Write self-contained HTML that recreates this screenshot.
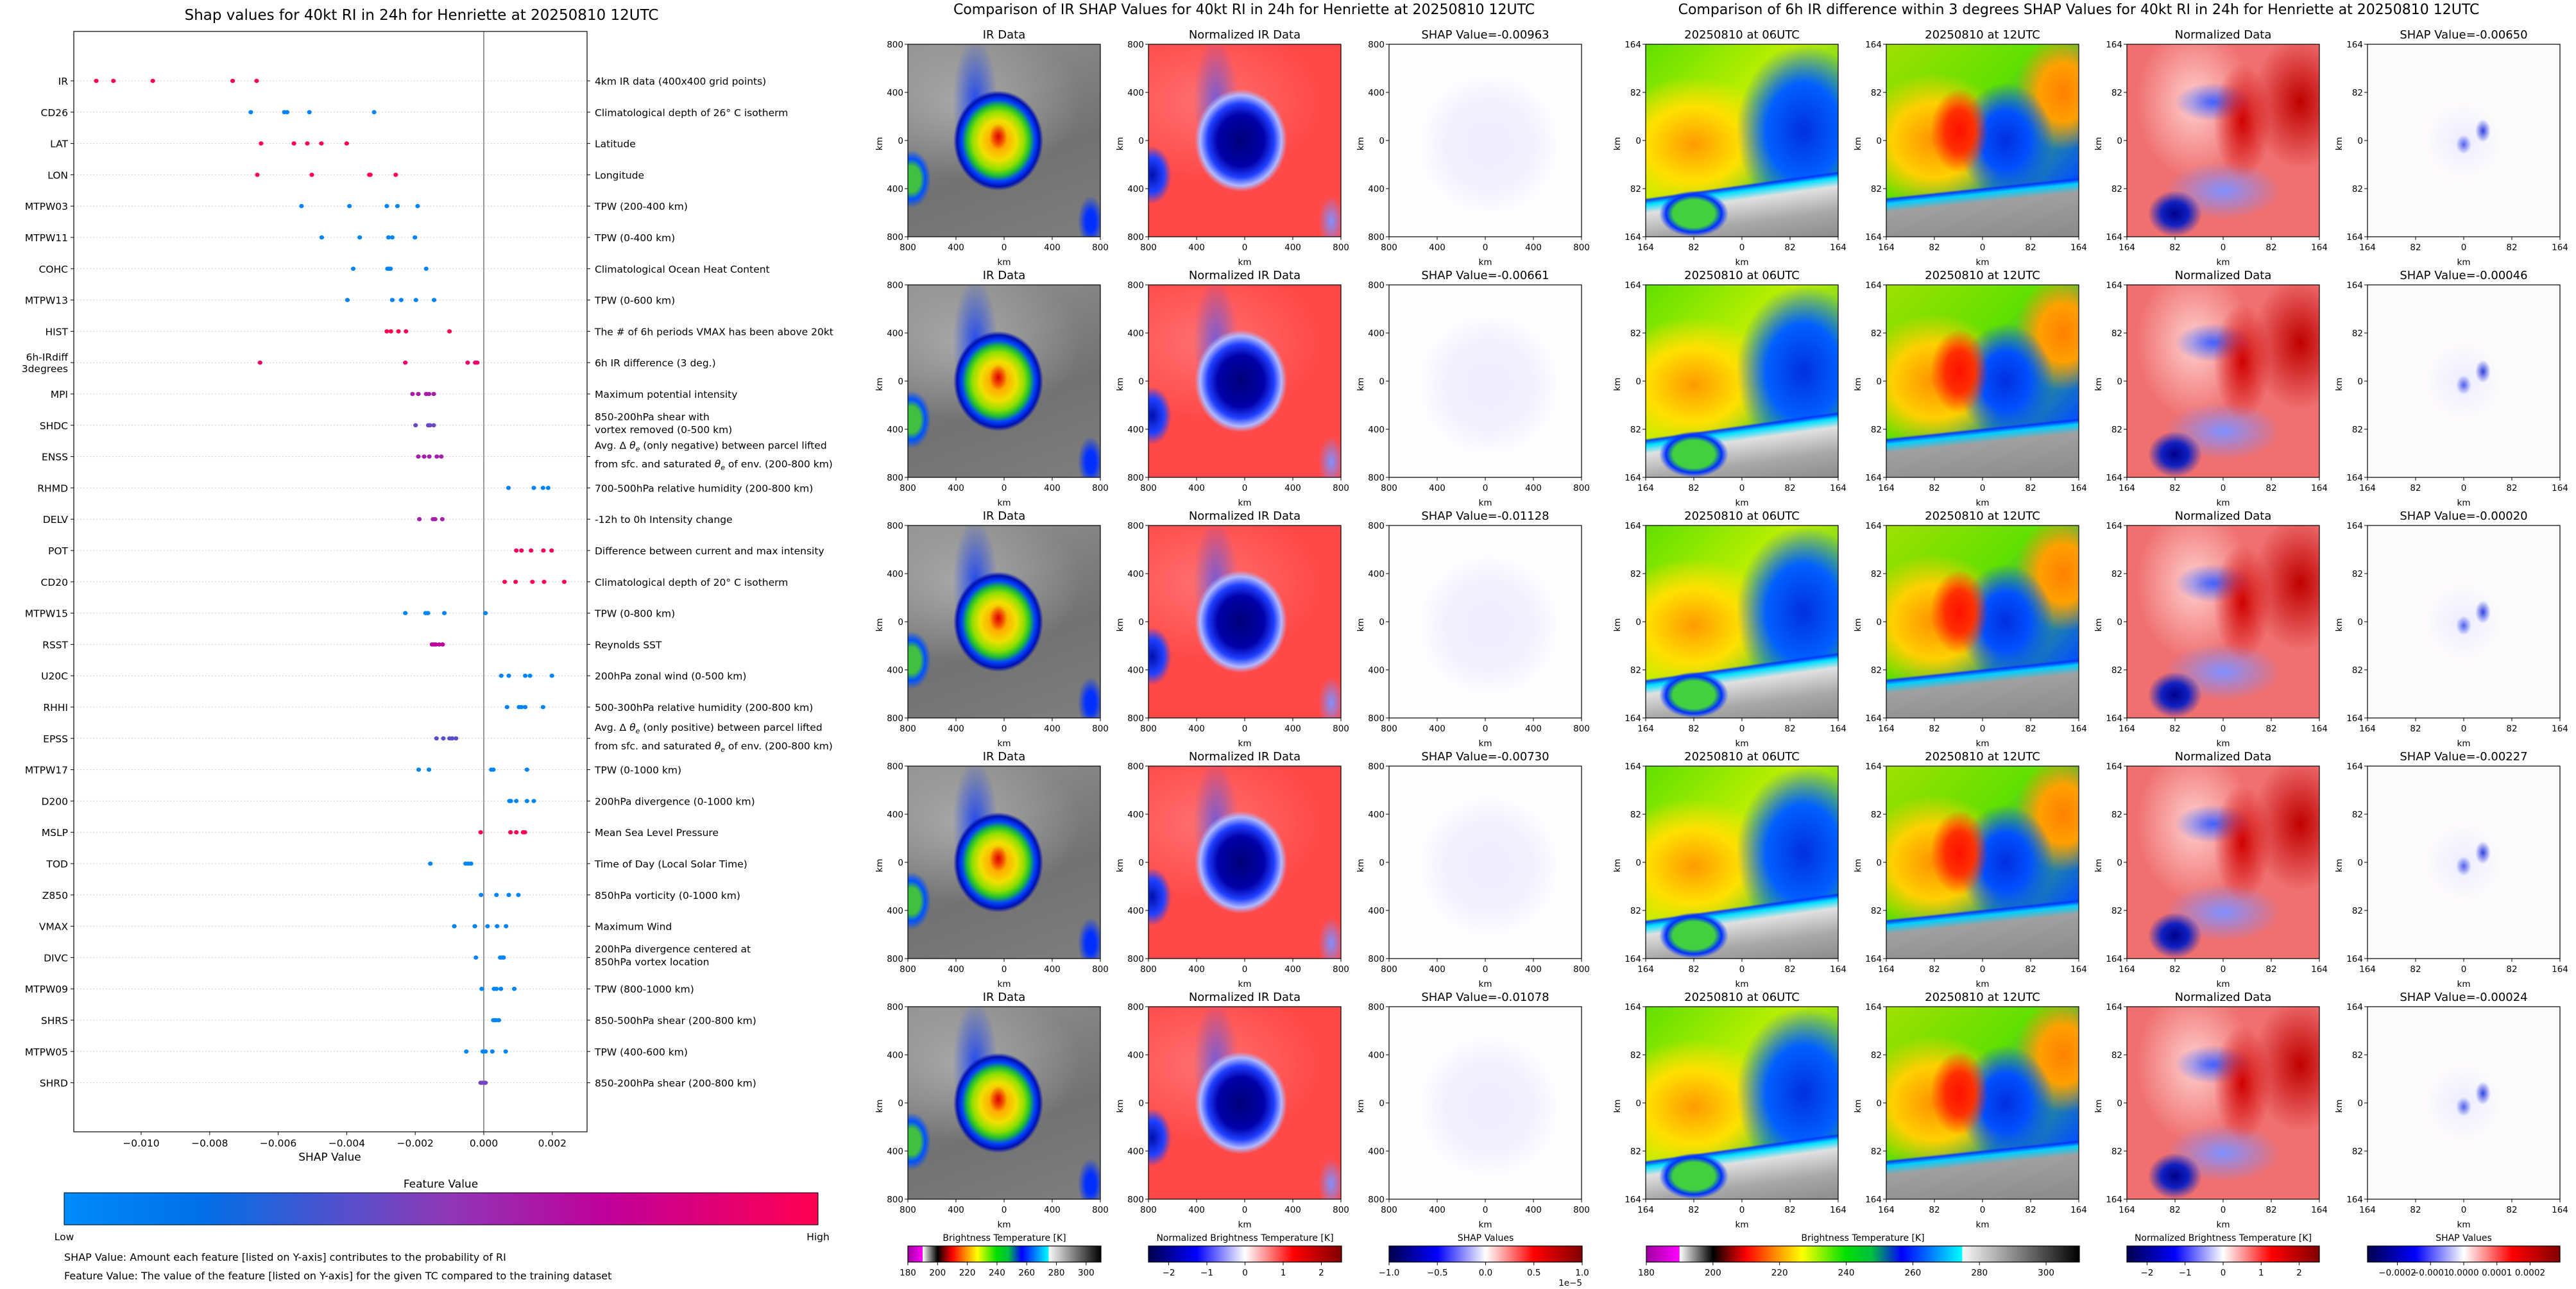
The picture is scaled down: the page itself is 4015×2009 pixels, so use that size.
<!DOCTYPE html>
<html><head><meta charset="utf-8">
<style>
html,body{margin:0;padding:0;background:#fff;}
#root{position:relative;width:4015px;height:2009px;overflow:hidden;background:#fff;font-family:"DejaVu Sans","Liberation Sans",sans-serif;}
.img{position:absolute;width:300px;height:300px;}
.ir{background:
 radial-gradient(ellipse 14px 20px at 47% 48%, #e00000 0%, rgba(224,0,0,0) 100%),
 radial-gradient(ellipse 70px 78px at 47% 50%, #ff7a00 0%, #ffb000 20%, #f0e000 40%, #90e000 58%, #20c030 70%, #0040ff 82%, #0010b0 92%, rgba(180,180,180,0) 100%),
 radial-gradient(ellipse 35px 100px at 35% 30%, rgba(0,50,255,.8) 0, rgba(0,50,255,0) 100%),
 radial-gradient(ellipse 30px 45px at 2% 70%, #40c040 0, #40c040 45%, #0050ff 70%, rgba(0,0,0,0) 100%),
 radial-gradient(ellipse 20px 40px at 95% 92%, #0030ff 0, #0030ff 40%, rgba(0,0,0,0) 100%),
 radial-gradient(ellipse 60% 40% at 30% 30%, rgba(185,185,185,.7), rgba(0,0,0,0)),
 linear-gradient(160deg,#939393,#727272 60%,#7e7e7e);}
.nir{background:
 radial-gradient(ellipse 72px 80px at 48% 50%, #00007a 0, #0000a8 50%, #2040ff 72%, #b0b8ff 88%, rgba(255,74,74,0) 100%),
 radial-gradient(ellipse 35px 100px at 35% 30%, rgba(60,80,255,.7) 0, rgba(60,80,255,0) 100%),
 radial-gradient(ellipse 30px 45px at 2% 68%, #0010b0 0, #2040ff 60%, rgba(0,0,0,0) 100%),
 radial-gradient(ellipse 20px 40px at 95% 92%, #8090ff 0, rgba(0,0,0,0) 100%),
 radial-gradient(ellipse 60% 40% at 30% 30%, rgba(255,140,140,.6), rgba(0,0,0,0)),
 #ff4848;}
.shp{background:
 radial-gradient(circle 110px at 52% 52%, #eeedff 0, #f1f0ff 60%, rgba(250,250,255,0) 100%),
 #fefdff;}
.t06{background:
 radial-gradient(ellipse 18% 12% at 25% 88%, #40d040 0, #40d040 60%, #0030ff 80%, rgba(0,0,0,0) 100%),
 linear-gradient(172deg, rgba(0,0,0,0) 70%, rgba(0,48,255,.9) 71%, #00e0ff 73%, #e0e0e0 77%, #a8a8a8 88%, #8c8c8c),
 radial-gradient(ellipse 35% 45% at 82% 45%, #0030e0, #0060ff 55%, rgba(0,80,255,0)),
 radial-gradient(ellipse 45% 35% at 25% 52%, #ff9a00, #ffe000 55%, rgba(255,230,0,0)),
 linear-gradient(to bottom right, #60e000, #c0f000 40%, #40c040 75%);}
.t12{background:
 linear-gradient(174deg, rgba(0,0,0,0) 72%, rgba(0,48,255,.9) 73%, #00d0ff 75%, #a0a0a0 79%, #8a8a8a),
 radial-gradient(ellipse 15% 22% at 38% 45%, #ff1000, #ff3000 50%, rgba(255,60,0,0)),
 radial-gradient(ellipse 25% 30% at 62% 50%, #0030e0, #0050ff 50%, rgba(0,80,255,0)),
 radial-gradient(ellipse 25% 30% at 92% 25%, #ff8000, #ffa000 50%, rgba(255,160,0,0)),
 radial-gradient(ellipse 40% 35% at 25% 50%, #ff9000, #ffd000 55%, rgba(255,210,0,0)),
 linear-gradient(to bottom right, #a0e000, #60e000 40%, #0050ff 85%);}
.nrm{background:
 radial-gradient(ellipse 14% 12% at 25% 88%, #00008a, #1020c0 50%, rgba(0,0,0,0)),
 radial-gradient(ellipse 15% 30% at 60% 40%, #d00000, rgba(208,0,0,0)),
 radial-gradient(ellipse 20% 10% at 45% 30%, #4060ff, rgba(64,96,255,0)),
 radial-gradient(ellipse 25% 35% at 90% 30%, #c00000, rgba(192,0,0,0)),
 radial-gradient(ellipse 30% 15% at 50% 76%, #8090ff, rgba(128,144,255,0)),
 radial-gradient(ellipse 30% 40% at 35% 30%, #ffd0d0, rgba(255,208,208,0)),
 #f07070;}
.shp2{background:
 radial-gradient(ellipse 4% 6% at 60% 45%, #3040e0, rgba(48,64,224,0)),
 radial-gradient(ellipse 4% 5% at 50% 52%, #5060e8, rgba(48,64,224,0)),
 radial-gradient(ellipse 20% 20% at 50% 50%, #ececff, rgba(232,232,255,0)),
 #fefbfc;}
.cb{position:absolute;height:25px;}
.cbBT{background:linear-gradient(to right,#a000a0 0%,#ff00ff 7.6%,#ffffff 7.7%,#000000 15.4%,#800000 19%,#ff0000 23%,#ff9000 30%,#ffff00 36%,#00e000 46%,#00c040 52%,#0000ff 59%,#00ffff 72.9%,#f8f8f8 73%,#000000 100%);}
.cbSE{background:linear-gradient(to right,#00004c 0%,#0000ff 25%,#ffffff 50%,#ff0000 75%,#800000 100%);}
</style></head>
<body>
<div id="root"></div>
<script>
// ===== Left beeswarm data =====
const features = ["IR","CD26","LAT","LON","MTPW03","MTPW11","COHC","MTPW13","HIST","6h-IRdiff|3degrees","MPI","SHDC","ENSS","RHMD","DELV","POT","CD20","MTPW15","RSST","U20C","RHHI","EPSS","MTPW17","D200","MSLP","TOD","Z850","VMAX","DIVC","MTPW09","SHRS","MTPW05","SHRD"];
const descriptions = ["4km IR data (400x400 grid points)","Climatological depth of 26° C isotherm","Latitude","Longitude","TPW (200-400 km)","TPW (0-400 km)","Climatological Ocean Heat Content","TPW (0-600 km)","The # of 6h periods VMAX has been above 20kt","6h IR difference (3 deg.)","Maximum potential intensity","850-200hPa shear with|vortex removed (0-500 km)","THETA-NEG","700-500hPa relative humidity (200-800 km)","-12h to 0h Intensity change","Difference between current and max intensity","Climatological depth of 20° C isotherm","TPW (0-800 km)","Reynolds SST","200hPa zonal wind (0-500 km)","500-300hPa relative humidity (200-800 km)","THETA-POS","TPW (0-1000 km)","200hPa divergence (0-1000 km)","Mean Sea Level Pressure","Time of Day (Local Solar Time)","850hPa vorticity (0-1000 km)","Maximum Wind","200hPa divergence centered at|850hPa vortex location","TPW (800-1000 km)","850-500hPa shear (200-800 km)","TPW (400-600 km)","850-200hPa shear (200-800 km)"];
const shapValues = [
 [-0.01131,-0.01081,-0.00966,-0.00733,-0.00663],
 [-0.00680,-0.00582,-0.00574,-0.00509,-0.00320],
 [-0.00650,-0.00554,-0.00515,-0.00474,-0.00400],
 [-0.00661,-0.00502,-0.00334,-0.00331,-0.00257],
 [-0.00532,-0.00392,-0.00283,-0.00252,-0.00193],
 [-0.00473,-0.00362,-0.00278,-0.00267,-0.00201],
 [-0.00381,-0.00281,-0.00277,-0.00272,-0.00168],
 [-0.00398,-0.00267,-0.00241,-0.00198,-0.00145],
 [-0.00283,-0.00271,-0.00249,-0.00227,-0.00100],
 [-0.00653,-0.00229,-0.00047,-0.00025,-0.00019],
 [-0.00208,-0.00191,-0.00168,-0.00160,-0.00146],
 [-0.00199,-0.00162,-0.00157,-0.00146],
 [-0.00191,-0.00174,-0.00159,-0.00137,-0.00124],
 [0.00072,0.00146,0.00173,0.00188],
 [-0.00188,-0.00148,-0.00142,-0.00121],
 [0.00095,0.00110,0.00138,0.00174,0.00198],
 [0.00061,0.00093,0.00142,0.00176,0.00235],
 [-0.00229,-0.00170,-0.00163,-0.00115,0.00005],
 [-0.00151,-0.00145,-0.00140,-0.00130,-0.00120],
 [0.00051,0.00073,0.00121,0.00135,0.00199],
 [0.00068,0.00103,0.00110,0.00121,0.00173],
 [-0.00138,-0.00118,-0.00100,-0.00092,-0.00081],
 [-0.00190,-0.00160,0.00022,0.00028,0.00126],
 [0.00075,0.00079,0.00095,0.00126,0.00146],
 [-0.00009,0.00078,0.00095,0.00115,0.00120],
 [-0.00156,-0.00053,-0.00045,-0.00037],
 [-0.00008,0.00037,0.00073,0.00101],
 [-0.00086,-0.00026,0.00011,0.00039,0.00065],
 [-0.00023,0.00048,0.00053,0.00058],
 [-0.00006,0.00030,0.00037,0.00050,0.00089],
 [0.00028,0.00032,0.00036,0.00044],
 [-0.00051,-0.00003,0.00005,0.00025,0.00064],
 [-0.00009,-0.00005,0.00002,0.00005]
];
const featureValues = [1,0.05,1,1,0.05,0.05,0.05,0.05,1,0.9,0.62,0.42,0.6,0.05,0.6,0.95,1,0.05,0.72,0.05,0.05,0.38,0.05,0.05,1,0.05,0.05,0.05,0.05,0.05,0.05,0.05,0.45];
const xTicks = [-0.010,-0.008,-0.006,-0.004,-0.002,0.000,0.002];

// ===== Right panel data =====
const irShapTitles = ["-0.00963","-0.00661","-0.01128","-0.00730","-0.01078"];
const diffShapTitles = ["-0.00650","-0.00046","-0.00020","-0.00227","-0.00024"];
const irTicks = ["800","400","0","400","800"];
const diffTicks = ["164","82","0","82","164"];
const btTicks = [180,200,220,240,260,280,300];
const normTicks = [-2,-1,0,1,2];
const shapCbTicks = [-1.0,-0.5,0.0,0.5,1.0];
const shapCb2Ticks = [-0.0002,-0.0001,0.0000,0.0001,0.0002];

const NS="http://www.w3.org/2000/svg";
const root=document.getElementById('root');
const svg=document.createElementNS(NS,'svg');
svg.setAttribute('width',4015);svg.setAttribute('height',2009);
svg.setAttribute('style','position:absolute;left:0;top:0;');



function el(tag,attrs,parent){const e=document.createElementNS(NS,tag);for(const k in attrs)e.setAttribute(k,attrs[k]);(parent||svg).appendChild(e);return e;}
function txt(x,y,s,size,anchor,parent,extra){const e=el('text',Object.assign({x:x,y:y,'font-size':size,'text-anchor':anchor||'start',fill:'#000','font-family':'DejaVu Sans, Liberation Sans, sans-serif'},extra||{}),parent);e.textContent=s;return e;}
function fmtMinus(v,d){const s=Math.abs(v).toFixed(d);return (v<0?'\u2212':'')+s;}

const cmapStops=[[0,[0,139,251]],[0.18,[0,112,232]],[0.5,[140,58,184]],[0.72,[192,0,154]],[1,[255,0,81]]];
function cmap(t){for(let i=1;i<cmapStops.length;i++){if(t<=cmapStops[i][0]){const a=cmapStops[i-1],b=cmapStops[i];const f=(t-a[0])/(b[0]-a[0]);return 'rgb('+a[1].map((c,j)=>Math.round(c+(b[1][j]-c)*f)).join(',')+')';}}return 'rgb(255,0,81)';}

// ===== Left chart =====
const L={x0:115,x1:915,y0:49,y1:1764};
const xScale=v=>754+v*53400;
const yRow=i=>126+i*48.8;
const gLeft=el('g',{});


const t1=txt(657,31,'Shap values for 40kt RI in 24h for Henriette at 20250810 12UTC',23,'middle',gLeft);



features.forEach((f,i)=>{
  const y=yRow(i);
  const gl=el('line',{x1:L.x0,x2:L.x1,y1:y,y2:y,stroke:'#cccccc','stroke-width':1,'stroke-dasharray':'2,3'},gLeft);
  
  
  el('line',{x1:L.x0-5,x2:L.x0,y1:y,y2:y,stroke:'#000'},gLeft);
  el('line',{x1:L.x1,x2:L.x1+5,y1:y,y2:y,stroke:'#000'},gLeft);
  const parts=f.split('|');
  let lab;
  if(parts.length===1){lab=txt(L.x0-9,y+6,f,15.5,'end',gLeft);}
  else{lab=txt(L.x0-9,y-3,parts[0],15.5,'end',gLeft);const l2=txt(L.x0-9,y+15,parts[1],15.5,'end',gLeft);}
  
  
  const d=descriptions[i];
  let dl;
  if(d==='THETA-NEG'||d==='THETA-POS'){
    const word=d==='THETA-NEG'?'negative':'positive';
    dl=el('text',{x:L.x1+12,y:y-12,'font-size':15.5,fill:'#000','font-family':'DejaVu Sans, sans-serif'},gLeft);
    dl.innerHTML='Avg. Δ <tspan font-style="italic">θ</tspan><tspan font-style="italic" font-size="11" dy="4">e</tspan><tspan dy="-4"> (only '+word+') between parcel lifted</tspan>';
    const d2=el('text',{x:L.x1+12,y:y+17,'font-size':15.5,fill:'#000','font-family':'DejaVu Sans, sans-serif'},gLeft);
    d2.innerHTML='from sfc. and saturated <tspan font-style="italic">θ</tspan><tspan font-style="italic" font-size="11" dy="4">e</tspan><tspan dy="-4"> of env. (200-800 km)</tspan>';
    
    
  } else {
    const dp=d.split('|');
    if(dp.length===1){dl=txt(L.x1+12,y+6,d,15.5,'start',gLeft);}
    else{dl=txt(L.x1+12,y-8,dp[0],15.5,'start',gLeft);const d2=txt(L.x1+12,y+12,dp[1],15.5,'start',gLeft);}
  }
  
  
});
const zl=el('line',{x1:xScale(0),x2:xScale(0),y1:L.y0,y2:L.y1,stroke:'#999999','stroke-width':2},gLeft);


shapValues.forEach((row,i)=>{
  row.forEach(v=>{
    const c=el('ellipse',{cx:xScale(v),cy:yRow(i),rx:3.6,ry:3.3,fill:cmap(featureValues[i])},gLeft);
    
    
  });
});
const frame=el('rect',{x:L.x0,y:L.y0,width:L.x1-L.x0,height:L.y1-L.y0,fill:'none',stroke:'#000','stroke-width':1.2},gLeft);


xTicks.forEach(v=>{
  const x=xScale(v);
  el('line',{x1:x,x2:x,y1:L.y1,y2:L.y1+5,stroke:'#000'},gLeft);
  const tl=txt(x,L.y1+23,fmtMinus(v,3),15.5,'middle',gLeft);
  
  
});
const xt=txt(514,L.y1+45,'SHAP Value',17,'middle',gLeft);


const lg=el('linearGradient',{id:'shapcm',x1:0,x2:1,y1:0,y2:0},el('defs',{}));
cmapStops.forEach(s=>el('stop',{offset:s[0],'stop-color':'rgb('+s[1].join(',')+')'},lg));
const cbr=el('rect',{x:100,y:1859,width:1175,height:50,fill:'url(#shapcm)',stroke:'#000','stroke-width':1},gLeft);


const cbt=txt(687,1851,'Feature Value',17,'middle',gLeft);


const lo=txt(100,1933,'Low',15.5,'middle',gLeft);


const hi=txt(1275,1933,'High',15.5,'middle',gLeft);


const n1=txt(100,1965,'SHAP Value: Amount each feature [listed on Y-axis] contributes to the probability of RI',16,'start',gLeft);


const n2=txt(100,1994,'Feature Value: The value of the feature [listed on Y-axis] for the given TC compared to the training dataset',16,'start',gLeft);



// ===== Image panels =====
function panel(x,y,cls,title,ticks,name){
  const d=document.createElement('div');
  d.className='img '+cls;
  d.style.left=x+'px';d.style.top=y+'px';
  
  
  root.appendChild(d);
  const g=el('g',{});
  
  
  el('rect',{x:x,y:y,width:300,height:300,fill:'none',stroke:'#000','stroke-width':1.2},g);
  const tt=txt(x+150,y-9,title,18,'middle',g);
  
  
  ticks.forEach((t,k)=>{
    const p=k*75;
    el('line',{x1:x-5,x2:x,y1:y+p,y2:y+p,stroke:'#000'},g);
    const yl=txt(x-7,y+p+5,t,13.5,'end',g);
    
    
    el('line',{x1:x+p,x2:x+p,y1:y+300,y2:y+305,stroke:'#000'},g);
    const xl=txt(x+p,y+321,t,13.5,'middle',g);
    
    
  });
  const xk=txt(x+150,y+344,'km',13.5,'middle',g);
  
  
  const yk=txt(x-45,y+150,'km',13.5,'middle',g,{transform:'rotate(-90 '+(x-40)+' '+(y+150)+')'});
  
  
}
const mt=txt(1939,22,'Comparison of IR SHAP Values for 40kt RI in 24h for Henriette at 20250810 12UTC',22,'middle');


const rt=txt(3240,22,'Comparison of 6h IR difference within 3 degrees SHAP Values for 40kt RI in 24h for Henriette at 20250810 12UTC',22,'middle');


for(let r=0;r<5;r++){
  const y=69+375*r;
  panel(1415,y,'ir','IR Data',irTicks,'ir-data-panel');
  panel(1790,y,'nir','Normalized IR Data',irTicks,'normalized-ir-panel');
  panel(2165,y,'shp','SHAP Value='+irShapTitles[r],irTicks,'ir-shap-panel');
  panel(2565,y,'t06','20250810 at 06UTC',diffTicks,'ir-06utc-panel');
  panel(2940,y,'t12','20250810 at 12UTC',diffTicks,'ir-12utc-panel');
  panel(3315,y,'nrm','Normalized Data',diffTicks,'normalized-diff-panel');
  panel(3690,y,'shp2','SHAP Value='+diffShapTitles[r],diffTicks,'diff-shap-panel');
}

// ===== Colorbars =====
function colorbar(x,w,cls,title,ticks,vmin,vmax,fmt,name){
  const d=document.createElement('div');
  d.className='cb '+cls;
  d.style.left=x+'px';d.style.top='1942px';d.style.width=w+'px';
  
  
  root.appendChild(d);
  el('rect',{x:x,y:1942,width:w,height:25,fill:'none',stroke:'#000','stroke-width':1.2});
  const ct=txt(x+w/2,1934,title,14,'middle');
  
  
  ticks.forEach(t=>{
    const px=x+(t-vmin)/(vmax-vmin)*w;
    el('line',{x1:px,x2:px,y1:1967,y2:1972,stroke:'#000'});
    const tl=txt(px,1988,fmt(t),13.5,'middle');
    
    
  });
}
colorbar(1415,301,'cbBT','Brightness Temperature [K]',btTicks,180,310,t=>String(t),'bt-colorbar');
colorbar(1790,301,'cbSE','Normalized Brightness Temperature [K]',normTicks,-2.53,2.53,t=>fmtMinus(t,0),'norm-colorbar');
colorbar(2165,301,'cbSE','SHAP Values',shapCbTicks,-1,1,t=>fmtMinus(t,1),'shap-colorbar');
const ex=txt(2466,2004,'1e\u22125',13.5,'end');


colorbar(2566,675,'cbBT','Brightness Temperature [K]',btTicks,180,310,t=>String(t),'bt-colorbar-2');
colorbar(3315,300,'cbSE','Normalized Brightness Temperature [K]',normTicks,-2.53,2.53,t=>fmtMinus(t,0),'norm-colorbar-2');
colorbar(3690,300,'cbSE','SHAP Values',shapCb2Ticks,-0.00029,0.00029,t=>fmtMinus(t,4),'shap-colorbar-2');

root.appendChild(svg);
</script>
</body></html>
